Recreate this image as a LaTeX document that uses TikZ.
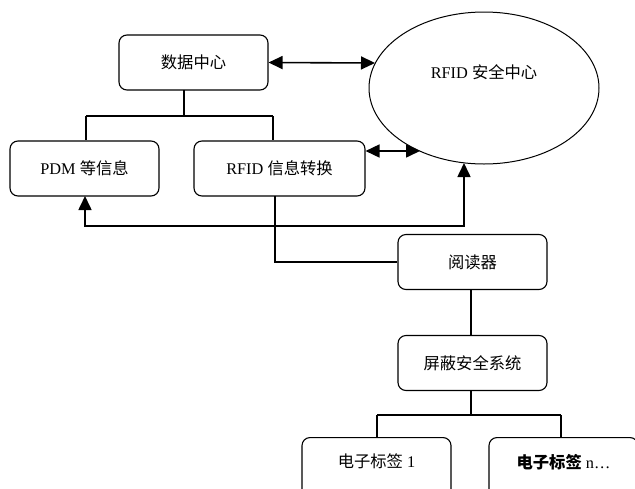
\documentclass[tikz,border=0pt]{standalone}
\usepackage{fontspec}
\setmainfont{Liberation Serif}
\newfontfamily\cjk{Noto Sans CJK SC}
\usetikzlibrary{shapes.geometric,arrows.meta}
\tikzset{
  txt/.style={font=\fontsize{16.3}{19}\selectfont},
  box/.style={draw, rounded corners=8pt, line width=1.1pt, minimum height=55pt, inner sep=0pt, txt},
  conn/.style={line width=1.6pt},
  dbl/.style={line width=1.6pt, {Triangle[length=14pt,width=13pt]}-{Triangle[length=14pt,width=13pt]}},
}
\begin{document}
\begin{tikzpicture}[x=1pt,y=-1pt]
\useasboundingbox (0,0) rectangle (635,488);
\clip (0,0) rectangle (635,488);
\fill[white] (0,0) rectangle (635,488);
% nodes
\node[box, minimum width=149pt] (dc) at (193.5,62.5) {\cjk 数据中心};
\node[draw, ellipse, line width=1pt, minimum width=230pt, minimum height=152pt, inner sep=0pt] (e) at (484,88) {};
\node[txt] (et) at (484,72) {RFID {\cjk 安全中心}};
\node[box, minimum width=149pt] (pdm) at (84.5,168.5) {PDM {\cjk 等信息}};
\node[box, minimum width=171pt] (rf) at (279.5,168.5) {RFID {\cjk 信息转换}};
\node[box, minimum width=149pt] (rd) at (472.5,262) {\cjk 阅读器};
\node[box, minimum width=149pt] (pb) at (472.5,363) {\cjk 屏蔽安全系统};
\node[box, minimum width=149pt, minimum height=70pt, anchor=north] (t1) at (376.5,437) {};
\node[txt] (t1t) at (376.5,461) {{\cjk 电子标签} 1};
\node[box, minimum width=149pt, minimum height=70pt, anchor=north] (tn) at (563.5,437) {};
\node[txt] (tnt) at (563.5,462) {{\cjk\bfseries 电子标签} n\ldots};
% coordinates
\coordinate (a1) at (375,63);
\coordinate (a2) at (420,151);
\coordinate (eb) at (464,163);
\coordinate (j1) at (464,226);
\coordinate (d0) at (184,90);
\coordinate (d1) at (184,116);
\coordinate (dl) at (86,116);
\coordinate (dr) at (273,116);
\coordinate (r0) at (275,196);
\coordinate (p0) at (85,196);
\coordinate (b1) at (471,415);
\coordinate (bl) at (377,415);
\coordinate (br) at (561,415);
% connectors
\draw[dbl] (dc.east) -- (a1);
\draw[dbl] (rf.east |- a2) -- (a2);
\draw[dbl] (p0) |- (j1) -- (eb);
\draw[conn] (d0) -- (d1);
\draw[conn] (dl) -- (dr);
\draw[conn] (dl) -- (dl |- pdm.north);
\draw[conn] (dr) -- (dr |- rf.north);
\draw[conn] (r0) |- (rd.west);
\draw[conn] (rd.south -| b1) -- (pb.north -| b1);
\draw[conn] (pb.south -| b1) -- (b1);
\draw[conn] (bl) -- (br);
\draw[conn] (bl) -- (bl |- t1.north);
\draw[conn] (br) -- (br |- tn.north);
\end{tikzpicture}
\end{document}
